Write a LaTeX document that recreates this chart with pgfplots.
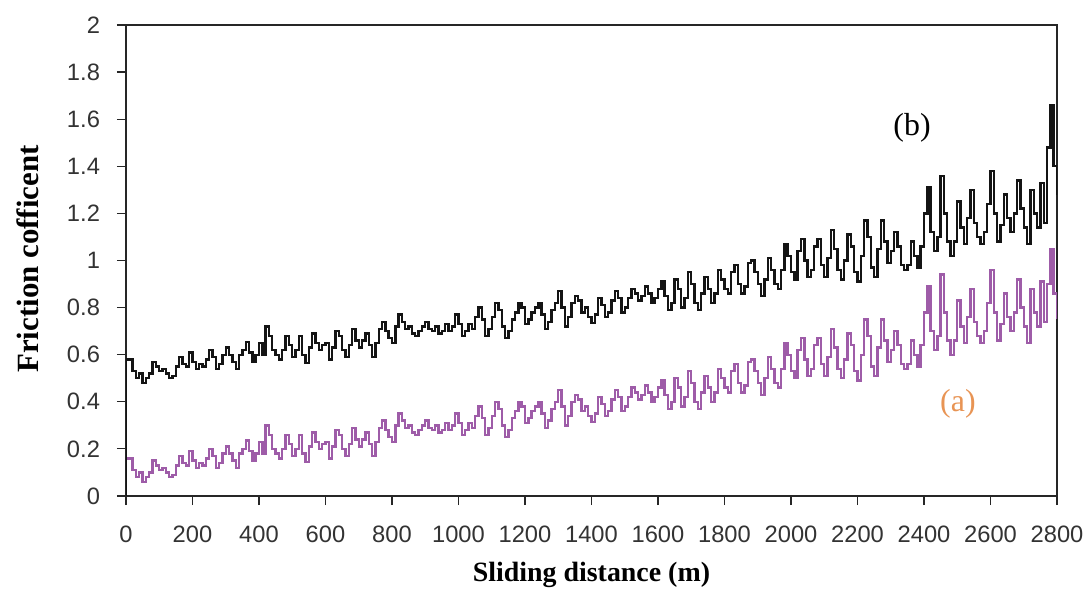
\documentclass[border=0pt]{standalone}
\usepackage{pgfplots}
\pgfplotsset{compat=1.18}
\usepackage{pgfplotstable}
\usepackage{fontspec}
\setmainfont{Liberation Serif}
\setsansfont{Liberation Sans}

\definecolor{curveb}{rgb}{0.08,0.08,0.08}
\definecolor{curvea}{rgb}{0.62,0.36,0.66}
\definecolor{labela}{rgb}{0.91,0.58,0.33}

% sliding distance (m), friction coefficient of (b) and (a)
\pgfplotstableread{
x b a
0 0 0
0 0.58 0.16
10 0.58 0.16
20 0.53 0.11
30 0.50 0.08
40 0.52 0.10
50 0.48 0.06
60 0.50 0.08
70 0.52 0.10
80 0.57 0.15
90 0.55 0.13
100 0.53 0.11
110 0.54 0.12
120 0.52 0.10
130 0.50 0.08
140 0.51 0.09
150 0.55 0.13
160 0.59 0.17
170 0.56 0.14
180 0.55 0.13
190 0.61 0.19
200 0.57 0.15
210 0.54 0.12
220 0.56 0.14
230 0.55 0.13
240 0.58 0.16
250 0.62 0.20
260 0.59 0.17
270 0.54 0.12
280 0.56 0.14
290 0.60 0.18
300 0.63 0.21
310 0.60 0.18
320 0.57 0.15
330 0.54 0.12
340 0.60 0.18
350 0.62 0.20
360 0.655 0.235
370 0.61 0.19
380 0.57 0.15
390 0.60 0.18
400 0.65 0.23
410 0.60 0.18
420 0.72 0.30
430 0.68 0.26
440 0.62 0.20
450 0.60 0.18
460 0.58 0.16
470 0.62 0.20
480 0.68 0.26
490 0.64 0.22
500 0.59 0.17
510 0.62 0.20
520 0.68 0.26
530 0.60 0.18
540 0.565 0.145
550 0.63 0.21
560 0.69 0.27
570 0.65 0.23
580 0.62 0.20
590 0.64 0.22
600 0.65 0.23
610 0.58 0.16
620 0.63 0.21
630 0.70 0.28
640 0.68 0.26
650 0.62 0.20
660 0.59 0.17
670 0.64 0.22
680 0.71 0.29
690 0.66 0.24
700 0.63 0.21
710 0.66 0.24
720 0.69 0.27
730 0.64 0.22
740 0.59 0.17
750 0.65 0.23
760 0.71 0.29
770 0.74 0.32
780 0.70 0.28
790 0.67 0.25
800 0.65 0.23
810 0.72 0.30
820 0.77 0.35
830 0.74 0.32
840 0.71 0.29
850 0.72 0.30
860 0.69 0.27
870 0.68 0.26
880 0.70 0.28
890 0.72 0.30
900 0.74 0.32
910 0.71 0.29
920 0.70 0.28
930 0.72 0.30
940 0.69 0.27
950 0.70 0.28
960 0.73 0.31
970 0.70 0.28
980 0.72 0.30
990 0.77 0.35
1000 0.73 0.31
1010 0.68 0.26
1020 0.70 0.28
1030 0.73 0.31
1040 0.71 0.29
1050 0.76 0.34
1060 0.80 0.38
1070 0.75 0.33
1080 0.68 0.26
1090 0.71 0.29
1100 0.76 0.34
1110 0.82 0.40
1120 0.79 0.37
1130 0.72 0.30
1140 0.67 0.25
1150 0.70 0.28
1160 0.75 0.33
1170 0.78 0.36
1180 0.82 0.40
1190 0.80 0.38
1200 0.73 0.31
1210 0.75 0.33
1220 0.78 0.36
1230 0.80 0.38
1240 0.82 0.40
1250 0.77 0.35
1260 0.71 0.29
1270 0.74 0.32
1280 0.79 0.37
1290 0.82 0.40
1300 0.87 0.45
1310 0.80 0.38
1320 0.72 0.30
1330 0.76 0.34
1340 0.82 0.40
1350 0.85 0.43
1360 0.83 0.41
1370 0.78 0.36
1380 0.80 0.38
1390 0.76 0.34
1400 0.735 0.315
1410 0.77 0.35
1420 0.84 0.42
1430 0.81 0.39
1440 0.76 0.34
1450 0.78 0.36
1460 0.83 0.41
1470 0.87 0.45
1480 0.84 0.42
1490 0.78 0.36
1500 0.80 0.38
1510 0.84 0.42
1520 0.88 0.46
1530 0.86 0.44
1540 0.83 0.41
1550 0.85 0.43
1560 0.89 0.47
1570 0.86 0.44
1580 0.82 0.40
1590 0.84 0.42
1600 0.88 0.46
1610 0.91 0.49
1620 0.85 0.43
1630 0.79 0.37
1640 0.82 0.40
1650 0.92 0.50
1660 0.88 0.46
1670 0.80 0.38
1680 0.84 0.42
1690 0.95 0.53
1700 0.90 0.48
1710 0.82 0.40
1720 0.79 0.37
1730 0.86 0.44
1740 0.93 0.51
1750 0.88 0.46
1760 0.82 0.40
1770 0.86 0.44
1780 0.96 0.54
1790 0.92 0.50
1800 0.88 0.46
1810 0.86 0.44
1820 0.95 0.53
1830 0.98 0.56
1840 0.90 0.48
1850 0.86 0.44
1860 0.89 0.47
1870 0.99 0.57
1880 1.00 0.58
1890 0.95 0.53
1900 0.90 0.48
1910 0.85 0.43
1920 0.92 0.50
1930 1.01 0.59
1940 0.96 0.54
1950 0.90 0.48
1960 0.88 0.46
1970 0.96 0.54
1980 1.07 0.65
1990 1.02 0.60
2000 0.95 0.53
2010 0.92 0.50
2020 1.04 0.62
2030 1.09 0.67
2040 1.00 0.58
2050 0.93 0.51
2060 0.96 0.54
2070 1.06 0.64
2080 1.09 0.67
2090 0.98 0.56
2100 0.93 0.51
2110 1.01 0.59
2120 1.13 0.71
2130 1.05 0.63
2140 0.96 0.54
2150 0.92 0.50
2160 1.00 0.58
2170 1.11 0.69
2180 1.06 0.64
2190 0.95 0.53
2200 0.91 0.49
2210 1.02 0.60
2220 1.17 0.75
2230 1.10 0.68
2240 0.97 0.55
2250 0.93 0.51
2260 1.05 0.63
2270 1.17 0.75
2280 1.08 0.66
2290 0.99 0.57
2300 1.04 0.62
2310 1.12 0.70
2320 1.06 0.64
2330 0.98 0.56
2340 0.96 0.54
2350 0.98 0.56
2360 1.08 0.66
2370 1.02 0.60
2380 0.97 0.55
2390 1.06 0.64
2400 1.20 0.78
2410 1.31 0.89
2420 1.12 0.70
2430 1.04 0.62
2440 1.10 0.68
2450 1.36 0.94
2460 1.20 0.78
2470 1.08 0.66
2480 1.02 0.60
2490 1.08 0.66
2500 1.25 0.83
2510 1.14 0.72
2520 1.07 0.65
2530 1.18 0.76
2540 1.30 0.88
2550 1.16 0.74
2560 1.10 0.68
2570 1.07 0.65
2580 1.12 0.70
2590 1.24 0.82
2600 1.38 0.96
2610 1.20 0.78
2620 1.08 0.66
2630 1.15 0.73
2640 1.28 0.86
2650 1.18 0.76
2660 1.12 0.70
2670 1.20 0.78
2680 1.34 0.92
2690 1.22 0.80
2700 1.14 0.72
2710 1.07 0.65
2720 1.30 0.88
2730 1.20 0.78
2740 1.14 0.72
2750 1.33 0.91
2760 1.16 0.74
2770 1.48 0.90
2780 1.66 1.05
2790 1.40 0.86
2800 1.28 0.75
}\friction

\begin{document}
\begin{tikzpicture}
\begin{axis}[
width=465.5bp,
height=235.5bp,
scale only axis,
xmin=0, xmax=2800,
ymin=0, ymax=2,
xtick={0,200,400,600,800,1000,1200,1400,1600,1800,2000,2200,2400,2600,2800},
ytick={0,0.2,0.4,0.6,0.8,1,1.2,1.4,1.6,1.8,2},
yticklabels={0,0.2,0.4,0.6,0.8,1,1.2,1.4,1.6,1.8,2},
xtick pos=left, ytick pos=left,
tick align=outside,
major tick length=4.5bp,
every tick/.style={black!85, line width=0.6pt},
axis line style={black!85, line width=0.75pt},
/pgf/number format/1000 sep={},
/pgf/number format/assume math mode=true,
tick label style={font=\sffamily\fontsize{11.9}{13}\selectfont, text=black!80},
xticklabel style={yshift=-7bp},
yticklabel style={xshift=-5bp},
xlabel={Sliding distance (m)},
ylabel={Friction cofficent},
xlabel style={font=\bfseries\fontsize{14}{16}\selectfont, at={(axis description cs:0.5,-0.168)}, anchor=center},
ylabel style={font=\bfseries\fontsize{15.5}{17}\selectfont, at={(axis description cs:-0.105,0.503)}, anchor=center},
]
\addplot[const plot, curvea, line width=1.2pt] table[x=x, y=a] {\friction};
\addplot[const plot, curveb, line width=1.2pt] table[x=x, y=b] {\friction};
\node[font=\fontsize{16}{18}\selectfont, text=black] at (axis cs:2364,1.563) {(b)};
\node[font=\fontsize{16}{18}\selectfont, text=labela] at (axis cs:2502,0.39) {(a)};
\end{axis}
\pgfresetboundingbox
\useasboundingbox (-63bp,-52.5bp) rectangle (480.5bp,248bp);
\end{tikzpicture}
\end{document}
